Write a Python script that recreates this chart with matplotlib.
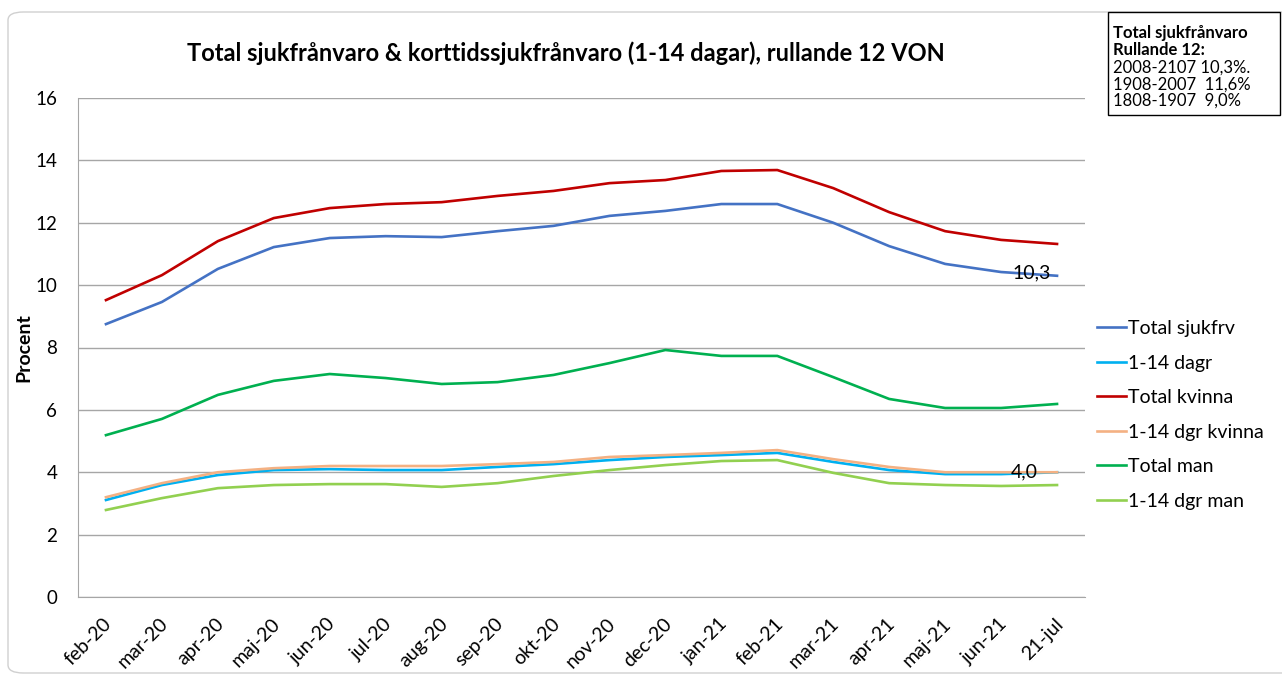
import matplotlib
matplotlib.use('Agg')
import matplotlib.pyplot as plt
import matplotlib.transforms as mtransforms
from matplotlib.patches import FancyBboxPatch

plt.rcParams['font.family'] = ['Lato', 'DejaVu Sans']

months = ['feb-20', 'mar-20', 'apr-20', 'maj-20', 'jun-20', 'jul-20', 'aug-20', 'sep-20',
          'okt-20', 'nov-20', 'dec-20', 'jan-21', 'feb-21', 'mar-21', 'apr-21', 'maj-21',
          'jun-21', '21-jul']

total_sjukfrv = [8.75, 9.46, 10.52, 11.22, 11.51, 11.57, 11.54, 11.73, 11.90, 12.22, 12.38,
                 12.60, 12.60, 12.00, 11.25, 10.68, 10.42, 10.30]
dagr_1_14 = [3.11, 3.59, 3.91, 4.07, 4.10, 4.07, 4.07, 4.17, 4.26, 4.39, 4.49, 4.55, 4.62,
             4.33, 4.07, 3.94, 3.94, 4.00]
total_kvinna = [9.52, 10.32, 11.41, 12.15, 12.47, 12.60, 12.66, 12.86, 13.02, 13.27, 13.37,
                13.66, 13.69, 13.11, 12.34, 11.73, 11.45, 11.32]
dgr_kvinna = [3.20, 3.65, 4.00, 4.13, 4.20, 4.20, 4.20, 4.26, 4.33, 4.49, 4.55, 4.62, 4.71,
              4.42, 4.17, 4.00, 4.00, 4.00]
total_man = [5.19, 5.71, 6.48, 6.93, 7.15, 7.02, 6.83, 6.89, 7.12, 7.50, 7.92, 7.73, 7.73,
             7.05, 6.35, 6.06, 6.06, 6.19]
dgr_man = [2.79, 3.17, 3.49, 3.59, 3.62, 3.62, 3.53, 3.65, 3.88, 4.07, 4.23, 4.36, 4.39,
           3.98, 3.65, 3.59, 3.56, 3.59]

series = [
    ('Total sjukfrv', total_sjukfrv, '#4472C4'),
    ('1-14 dagr', dagr_1_14, '#00B0F0'),
    ('Total kvinna', total_kvinna, '#C00000'),
    ('1-14 dgr kvinna', dgr_kvinna, '#F4B183'),
    ('Total man', total_man, '#00B050'),
    ('1-14 dgr man', dgr_man, '#92D050'),
]

info_title = ['Total sjukfrånvaro', 'Rullande 12:']
info_lines = ['2008-2107 10,3%.', '1908-2007  11,6%', '1808-1907  9,0%']

fig = plt.figure(figsize=(12.82, 6.78), dpi=100)

# rounded chart frame
frame = FancyBboxPatch((8 / 1282, 5 / 678), 1.05, 661 / 678,
                       boxstyle='round,pad=0,rounding_size=0.012',
                       transform=fig.transFigure, facecolor='none',
                       edgecolor='#D0D0D0', linewidth=1.0, zorder=-1)
fig.patches.append(frame)

ax = fig.add_axes([78 / 1282, 1 - 597 / 678, (1085 - 78) / 1282, (597 - 98) / 678])
ax.set_facecolor('none')

x = list(range(len(months)))
for label, vals, color in series:
    ax.plot(x, vals, color=color, linewidth=1.9, label=label)

ax.set_xlim(-0.5, len(months) - 0.5)
ax.set_ylim(0, 16)
ax.set_yticks(range(0, 17, 2))
ax.set_xticks(x)
ax.set_xticklabels(months, rotation=45, ha='right', rotation_mode='anchor')
ax.tick_params(axis='x', length=0, labelsize=14, colors='black', pad=13)
ax.tick_params(axis='y', length=0, labelsize=13.5, colors='black', pad=15)
shift = mtransforms.ScaledTranslation(-2 / 72, 0, fig.dpi_scale_trans)
for lbl in ax.get_xticklabels():
    lbl.set_transform(lbl.get_transform() + shift)
ax.grid(axis='y', color='#A6A6A6', linewidth=1.0)
ax.set_axisbelow(True)
for side in ['top', 'right']:
    ax.spines[side].set_visible(False)
for side in ['left', 'bottom']:
    ax.spines[side].set_color('#A6A6A6')
ax.set_ylabel('Procent', fontsize=14, fontweight='bold')
ax.yaxis.set_label_coords(-46 / 1007, 0.5)

ax.annotate('10,3', (len(months) - 1, total_sjukfrv[-1]), xytext=(-32, 2),
            textcoords='offset points', fontsize=14, va='center', ha='left')
ax.annotate('4,0', (len(months) - 1, dagr_1_14[-1]), xytext=(-33, 0),
            textcoords='offset points', fontsize=14, va='center', ha='left')

fig.text(566 / 1282, 1 - 53 / 678,
         'Total sjukfrånvaro & korttidssjukfrånvaro (1-14 dagar), rullande 12 VON',
         ha='center', va='center', fontsize=17, fontweight='bold')

ax.legend(loc='center left', bbox_to_anchor=(1.012, 0.365), frameon=False,
          fontsize=14, handlelength=1.5, handletextpad=0.1, labelspacing=0.9,
          borderaxespad=0, borderpad=0)

# info box at top right
title_y = [33, 50]
for yy, line in zip(title_y, info_title):
    fig.text(1113 / 1282, 1 - yy / 678, line, ha='left', va='center',
             fontsize=12, fontweight='bold')
line_y = [68, 85, 101]
for yy, line in zip(line_y, info_lines):
    fig.text(1113 / 1282, 1 - yy / 678, line, ha='left', va='center',
             fontsize=12)
box = plt.Rectangle((1108 / 1282, 1 - 115 / 678), 172 / 1282, 103 / 678,
                    transform=fig.transFigure, facecolor='none',
                    edgecolor='black', linewidth=1.0)
fig.patches.append(box)

fig.savefig('out.png', dpi=100)
